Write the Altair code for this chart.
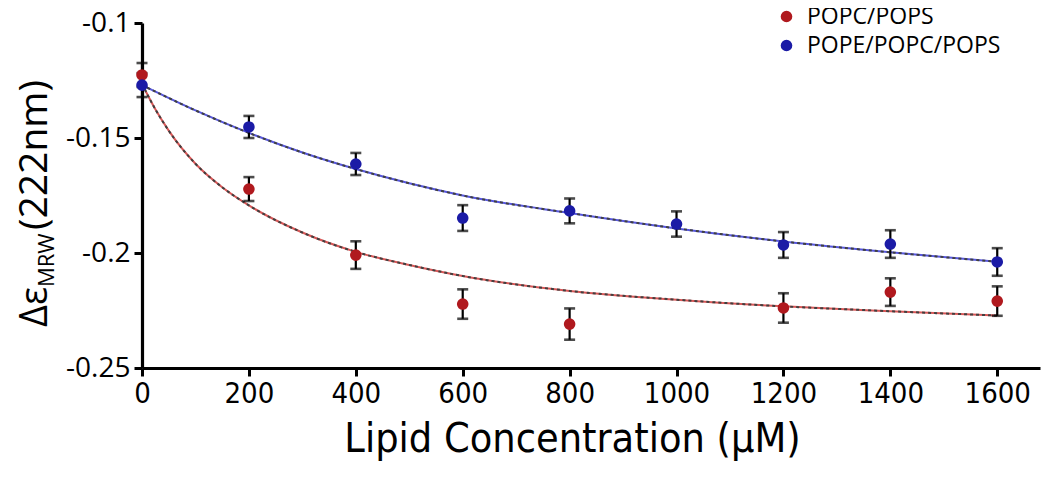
import altair as alt
import pandas as pd

series_names = ["POPC/POPS", "POPE/POPC/POPS"]
series_colors = ["#b0191e", "#1b1ba6"]

# measured points (Lipid concentration, µM) -> Δε
red_x = [0, 200, 400, 600, 800, 1200, 1400, 1600]
red_y = [-0.1226, -0.1722, -0.2009, -0.2222, -0.2309, -0.2239, -0.2170, -0.2209]
red_err = [0.0052, 0.0052, 0.0060, 0.0064, 0.0068, 0.0064, 0.0060, 0.0064]

blue_x = [0, 200, 400, 600, 800, 1000, 1200, 1400, 1600]
blue_y = [-0.1270, -0.1452, -0.1613, -0.1848, -0.1817, -0.1874, -0.1965, -0.1961, -0.2039]
blue_err = [0.0052, 0.0048, 0.0048, 0.0056, 0.0054, 0.0055, 0.0056, 0.0060, 0.0060]

# fitted curves
red_fit_x = [0, 25, 50, 100, 150, 200, 300, 400, 500, 600, 800, 1000, 1200, 1400, 1600]
red_fit_y = [-0.1265, -0.1375, -0.1468, -0.1612, -0.1714, -0.1793, -0.1911, -0.1995, -0.2052,
             -0.2100, -0.2165, -0.2203, -0.2232, -0.2253, -0.2272]
blue_fit_x = [0, 100, 200, 300, 400, 500, 600, 800, 1000, 1200, 1400, 1600]
blue_fit_y = [-0.1270, -0.1380, -0.1478, -0.1563, -0.1635, -0.1697, -0.1750, -0.1826, -0.1893,
              -0.1950, -0.1997, -0.2038]

x_ticks = [0, 200, 400, 600, 800, 1000, 1200, 1400, 1600]
y_ticks = [-0.25, -0.2, -0.15, -0.1]

pts = pd.DataFrame({
    "x": red_x + blue_x,
    "y": red_y + blue_y,
    "err": red_err + blue_err,
    "series": [series_names[0]] * len(red_x) + [series_names[1]] * len(blue_x),
})
pts["lo"] = pts["y"] - pts["err"]
pts["hi"] = pts["y"] + pts["err"]

red_fit = pd.DataFrame({"x": red_fit_x, "y": red_fit_y})
blue_fit = pd.DataFrame({"x": blue_fit_x, "y": blue_fit_y})

COND = "DejaVu Sans Condensed, Lato, sans-serif"

xs = alt.Scale(domain=[0, 1680], nice=False, zero=False)
ys = alt.Scale(domain=[-0.25, -0.1], nice=False, zero=False)

x_axis = alt.Axis(values=x_ticks, title="Lipid Concentration (µM)", format="d", labelFont=COND,
                  labelFontSize=29, labelPadding=3, titleFont=COND, titleFontSize=41,
                  titleFontWeight="normal", titlePadding=11, titleX=430, labelFlush=False)
y_axis = alt.Axis(values=y_ticks, title=None, labelFont="Open Sans", labelFontSize=28, labelPadding=4,
                  labelExpr="replace(format(datum.value, '.2~f'), '\u2212', '-')")

base = alt.Chart(pts)


def fit_layer(df, col):
    under = alt.Chart(df).mark_line(color=col, strokeWidth=2.0, opacity=0.85, interpolate="monotone").encode(
        x=alt.X("x:Q", scale=xs, axis=x_axis), y=alt.Y("y:Q", scale=ys, axis=y_axis))
    over = alt.Chart(df).mark_line(color="#404040", strokeWidth=2.0, strokeDash=[3, 3],
                                   interpolate="monotone").encode(
        x=alt.X("x:Q", scale=xs), y=alt.Y("y:Q", scale=ys))
    return under + over


bars = base.mark_rule(color="black", strokeWidth=2.2).encode(
    x=alt.X("x:Q", scale=xs), y=alt.Y("lo:Q", scale=ys), y2="hi:Q")
cap_lo = base.mark_tick(color="black", orient="horizontal", size=11, thickness=2.6).encode(
    x=alt.X("x:Q", scale=xs), y=alt.Y("lo:Q", scale=ys))
cap_hi = base.mark_tick(color="black", orient="horizontal", size=11, thickness=2.6).encode(
    x=alt.X("x:Q", scale=xs), y=alt.Y("hi:Q", scale=ys))
points = base.mark_circle(size=135, opacity=1).encode(
    x=alt.X("x:Q", scale=xs), y=alt.Y("y:Q", scale=ys),
    color=alt.Color("series:N", scale=alt.Scale(domain=series_names, range=series_colors),
                    legend=alt.Legend(title=None, orient="none", legendX=633, legendY=-18,
                                      symbolType="circle", symbolSize=135, labelFont="Open Sans",
                                      labelFontSize=23, labelColor="black", rowPadding=5,
                                      labelOffset=9, labelLimit=400, symbolStrokeWidth=0)))

title_df = pd.DataFrame({"t": ["Δε"]})
t1 = alt.Chart(title_df).mark_text(angle=270, align="left", baseline="alphabetic", font="Open Sans",
                                   fontSize=38, color="black").encode(
    text=alt.value("Δε"), x=alt.value(-95), y=alt.value(304))
t2 = alt.Chart(title_df).mark_text(angle=270, align="left", baseline="alphabetic", font="Open Sans",
                                   fontSize=22, color="black").encode(
    text=alt.value("MRW"), x=alt.value(-88), y=alt.value(264))
t3 = alt.Chart(title_df).mark_text(angle=270, align="left", baseline="alphabetic", font="Open Sans",
                                   fontSize=39, color="black").encode(
    text=alt.value("(222nm)"), x=alt.value(-95), y=alt.value(207))

chart = alt.layer(
    fit_layer(red_fit, "#d23a3a"), fit_layer(blue_fit, "#3a3ad8"),
    bars, cap_lo, cap_hi, points, t1, t2, t3
).properties(
    width=898, height=345,
    autosize=alt.AutoSizeParams(type="none"),
    padding={"left": 134, "top": 15, "right": 2, "bottom": 101},
).configure_view(stroke=None).configure_axis(
    grid=False, domainColor="black", domainWidth=3.2, tickColor="black", tickWidth=3, tickSize=8,
    labelColor="black", titleColor="black",
)

chart.save("out.html", embed_options={"renderer": "svg", "actions": False})
